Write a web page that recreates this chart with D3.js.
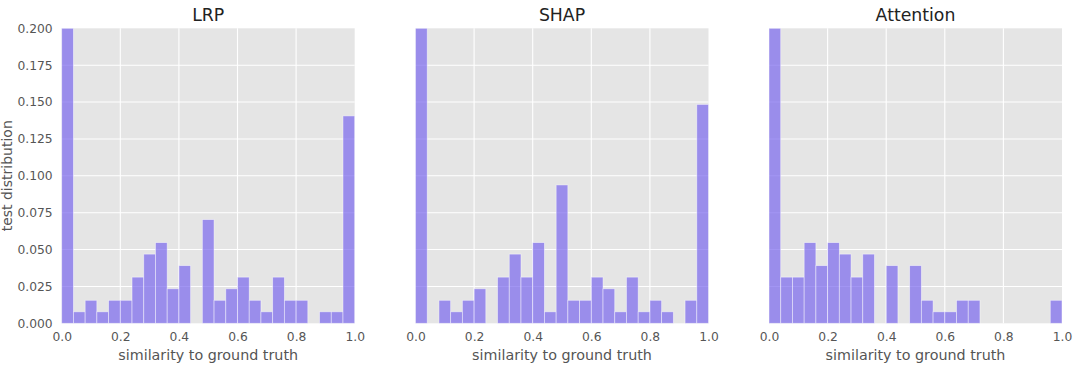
<!DOCTYPE html>
<html>
<head>
<meta charset="utf-8">
<script src="https://cdn.jsdelivr.net/npm/d3@7"></script>
<style>
body{margin:0;background:#fff;}
svg{display:block;font-family:"DejaVu Sans",sans-serif;}
</style>
</head>
<body>
<svg id="chart" width="1080" height="371"></svg>
<script>
// histogram bin edges: 25 bins of width 0.04
var binEdges = d3.range(26).map(i => +(i * 0.04).toFixed(2));
var titles = ['LRP', 'SHAP', 'Attention'];
// bar heights (fraction of test set), first bin is clipped at 0.2
var lrpVals = [0.359, 0.0078, 0.0156, 0.0078, 0.0156, 0.0156, 0.0313, 0.0469, 0.0547, 0.0234, 0.0391, 0,
	0.0703, 0.0156, 0.0234, 0.0313, 0.0156, 0.0078, 0.0313, 0.0156, 0.0156, 0, 0.0078, 0.0078, 0.1406];
var shapVals = [0.352, 0, 0.0156, 0.0078, 0.0156, 0.0234, 0, 0.0313, 0.0469, 0.0313, 0.0547, 0.0078,
	0.0938, 0.0156, 0.0156, 0.0313, 0.0234, 0.0078, 0.0313, 0.0078, 0.0156, 0.0078, 0, 0.0156, 0.1484];
var attnVals = [0.508, 0.0313, 0.0313, 0.0547, 0.0391, 0.0547, 0.0469, 0.0313, 0.0469, 0, 0.0391, 0,
	0.0391, 0.0156, 0.0078, 0.0078, 0.0156, 0.0156, 0, 0, 0, 0, 0, 0, 0.0156];
var xTicks = [0, 0.2, 0.4, 0.6, 0.8, 1.0];
var yTicks = [0, 0.025, 0.05, 0.075, 0.1, 0.125, 0.15, 0.175, 0.2];

var allVals = [lrpVals, shapVals, attnVals];
var panelLeft = [61.7, 415.5, 769];
var panelW = 293;
var plotTop = 28.3, plotBottom = 323.3;

var svg = d3.select('#chart');

var yscale = d3.scaleLinear().domain([0, 0.2]).range([plotBottom, plotTop]);

allVals.forEach(function(vals, p){
	var xscale = d3.scaleLinear().domain([0, 1]).range([panelLeft[p], panelLeft[p] + panelW]);
	var g = svg.append('g');

	g.append('rect')
		.attr('x', xscale(0)).attr('y', plotTop)
		.attr('width', panelW).attr('height', plotBottom - plotTop)
		.attr('fill', '#e5e5e5');

	// grid
	g.append('g').selectAll('line').data(xTicks.slice(1, -1)).enter().append('line')
		.attr('x1', d => xscale(d)).attr('x2', d => xscale(d))
		.attr('y1', plotTop).attr('y2', plotBottom)
		.attr('stroke', '#fff').attr('stroke-width', 1.1);
	g.append('g').selectAll('line').data(yTicks.slice(1, -1)).enter().append('line')
		.attr('x1', xscale(0)).attr('x2', xscale(1))
		.attr('y1', d => yscale(d)).attr('y2', d => yscale(d))
		.attr('stroke', '#fff').attr('stroke-width', 1.1);

	var bins = vals.map((v, i) => ({x0: binEdges[i], x1: binEdges[i + 1], v: Math.min(v, 0.2)}));
	g.append('g').selectAll('rect').data(bins.filter(d => d.v > 0)).enter().append('rect')
		.attr('x', d => xscale(d.x0))
		.attr('width', d => xscale(d.x1) - xscale(d.x0))
		.attr('y', d => yscale(d.v))
		.attr('height', d => yscale(0) - yscale(d.v))
		.attr('fill', 'mediumslateblue').attr('fill-opacity', 0.7)
		.attr('stroke', 'rgba(255,255,255,0.55)').attr('stroke-width', 0.8);

	// x axis
	var xa = g.append('g').attr('transform', `translate(0,${plotBottom})`)
		.call(d3.axisBottom(xscale).tickValues(xTicks).tickFormat(d3.format('.1f')).tickSize(0).tickPadding(9));
	xa.select('.domain').remove();
	xa.selectAll('text').attr('fill', '#555').attr('font-size', 12.3).attr('font-family', 'DejaVu Sans');

	if (p == 0) {
		var ya = g.append('g').attr('transform', `translate(${xscale(0)},0)`)
			.call(d3.axisLeft(yscale).tickValues(yTicks).tickFormat(d3.format('.3f')).tickSize(0).tickPadding(9));
		ya.select('.domain').remove();
		ya.selectAll('text').attr('fill', '#555').attr('font-size', 12.3).attr('font-family', 'DejaVu Sans');

		svg.append('text')
			.attr('transform', `translate(12,${(plotTop + plotBottom) / 2}) rotate(-90)`)
			.attr('text-anchor', 'middle')
			.attr('font-size', 14).attr('fill', '#555')
			.text('test distribution');
	}

	g.append('text')
		.attr('x', xscale(0.5)).attr('y', 360)
		.attr('text-anchor', 'middle')
		.attr('font-size', 14.3).attr('fill', '#555')
		.text('similarity to ground truth');

	g.append('text')
		.attr('x', xscale(0.5)).attr('y', 21)
		.attr('text-anchor', 'middle')
		.attr('font-size', 17.3).attr('fill', '#222')
		.text(titles[p]);
});
</script>
</body>
</html>
